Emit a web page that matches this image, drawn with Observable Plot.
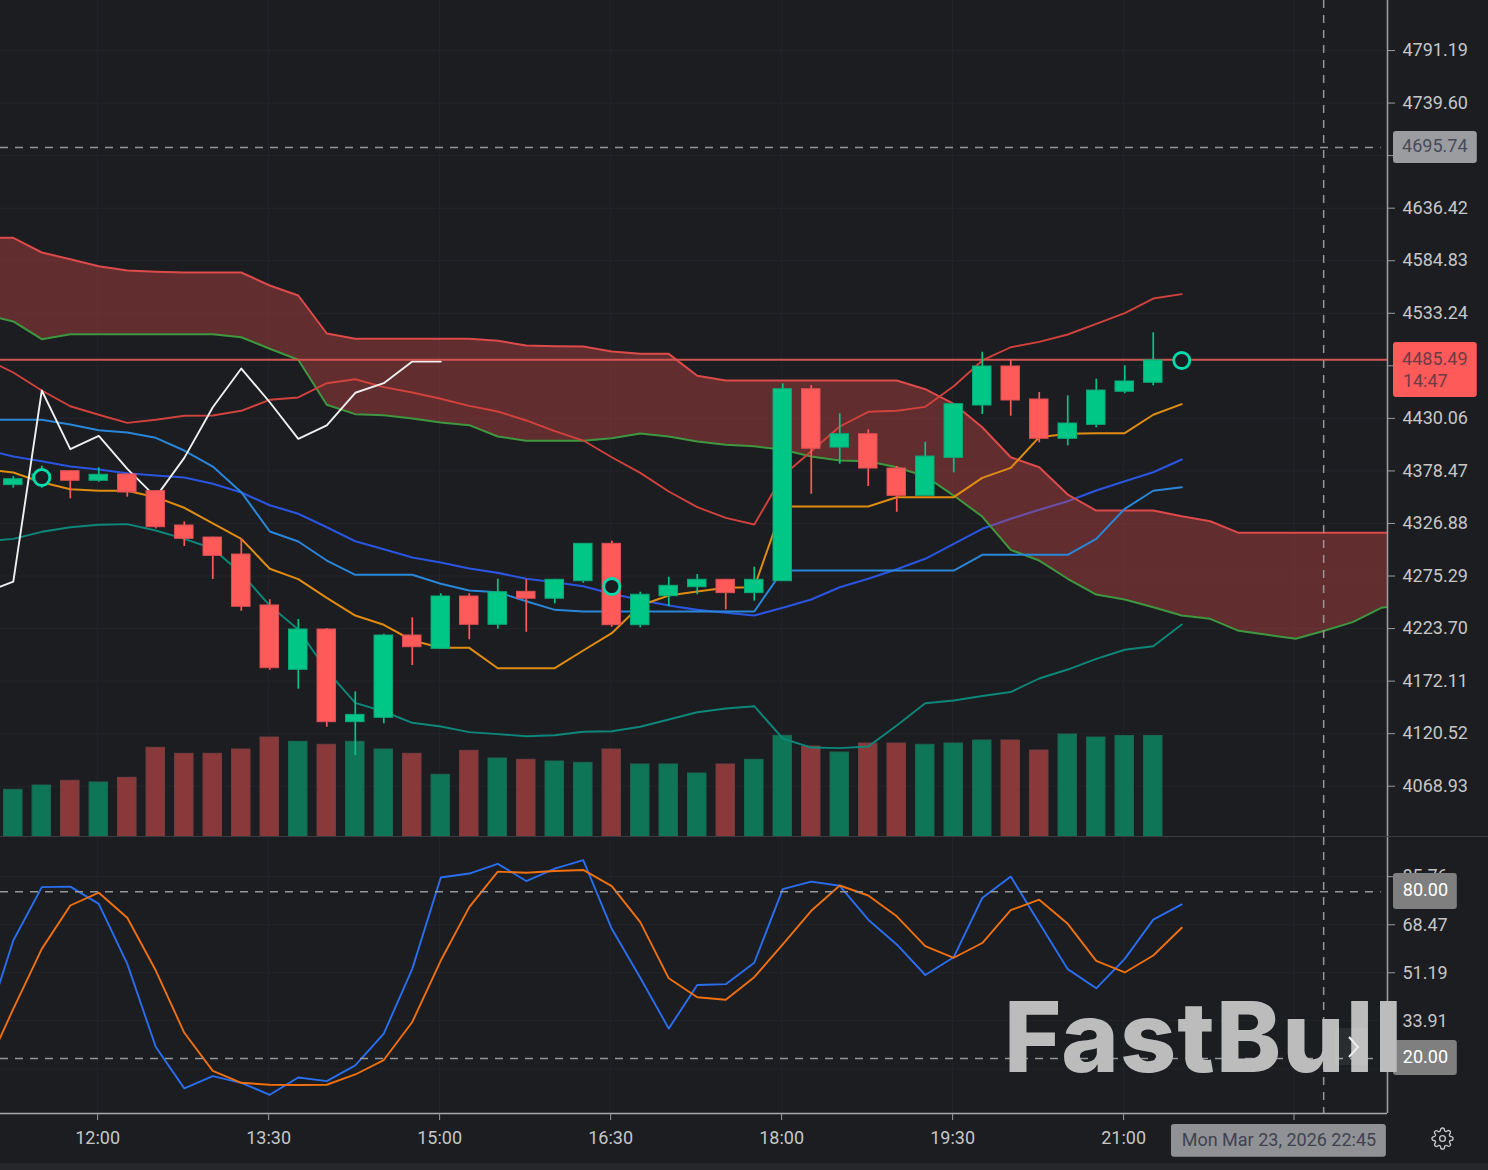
<!DOCTYPE html>
<html><head><meta charset="utf-8">
<script src="https://cdn.jsdelivr.net/npm/d3@7"></script>
<script src="https://cdn.jsdelivr.net/npm/@observablehq/plot@0.6"></script>
<style>
html,body{margin:0;padding:0;background:#1b1d21;overflow:hidden;width:1488px;height:1170px}
#chart{position:relative;width:1488px;height:1170px;overflow:hidden}
#chart svg.plotlayer{position:absolute;left:0;background:transparent;overflow:hidden}
#strip{position:absolute;left:0;top:1163px;width:1488px;height:7px;background:#26272b}
#brand{position:absolute;left:1004px;top:988px;font:800 98px/1 Inter,sans-serif;color:#bcbcbc;letter-spacing:1.1px;white-space:nowrap}
#next{position:absolute;left:1335px;top:1028px;width:33px;height:37px;background:rgba(255,255,255,.07);border-radius:4px}
#gear{position:absolute;left:1431px;top:1127px}
</style></head>
<body><div id="chart"><div id="strip"></div></div>
<script>
// ---- bars: index 0 = 11:15, one bar each 15 minutes
const open  = [4364.5,4369.1,4378.2,4368.8,4375.0,4358.6,4324.9,4313.1,4296.4,4246.4,4183.2,4222.8,4131.8,4136.1,4216.9,4203.8,4255.2,4227.4,4259.8,4253.0,4270.2,4306.9,4227.0,4255.5,4264.3,4271.6,4258.5,4270.2,4458.7,4401.4,4414.5,4380.8,4354.0,4391.3,4442.7,4481.0,4448.6,4410.0,4423.7,4456.2,4465.0];
const close = [4370.3,4375.0,4368.8,4374.7,4357.3,4323.2,4311.8,4295.1,4245.1,4184.8,4222.8,4131.8,4139.0,4216.9,4205.4,4255.2,4227.4,4259.4,4253.0,4271.6,4306.9,4227.0,4256.9,4265.7,4271.6,4258.5,4271.6,4458.7,4400.2,4414.5,4380.8,4354.0,4392.6,4444.0,4481.0,4447.6,4410.0,4425.0,4457.4,4466.3,4487.0];
const high  = [4373.0,4383.1,4378.9,4381.5,4375.6,4359.0,4328.5,4313.4,4311.8,4252.0,4232.6,4223.8,4161.6,4218.2,4234.3,4257.8,4257.8,4272.2,4271.6,4272.0,4306.9,4309.5,4259.4,4274.1,4276.8,4272.0,4284.0,4464.0,4462.3,4434.5,4418.8,4382.8,4406.7,4444.0,4495.0,4487.6,4455.5,4452.2,4468.5,4481.7,4514.1];
const low   = [4361.5,4361.5,4351.1,4367.4,4352.7,4321.6,4304.3,4271.9,4240.7,4182.8,4164.2,4126.9,4099.1,4130.2,4187.4,4203.8,4212.7,4223.1,4220.1,4248.0,4268.2,4225.0,4224.4,4245.4,4256.9,4242.1,4250.6,4270.2,4355.6,4385.1,4363.2,4337.9,4354.0,4376.6,4433.9,4432.2,4406.1,4403.1,4420.8,4454.2,4462.0];
const volume = [47.7,52,56.7,55,59.7,89.7,83.7,83.7,88,100,95.7,92.7,95.7,88,83.7,62.7,86.7,79,77.7,76,74.7,88,73,73,64,73,77.7,101.7,91,85,94,94,92.7,94,97,97,87,103,100,101.5,101.5];

// ---- indicator lines: first value is bar index -1
const cloudUpper = [4607.3,4607.3,4592.9,4586.3,4579.5,4575.2,4574.0,4573.3,4573.3,4573.3,4560.5,4550.7,4513.4,4508.2,4508.2,4508.2,4508.2,4508.2,4506.2,4501.6,4500.9,4500.6,4495.7,4493.4,4493.4,4471.9,4467.2,4467.2,4467.2,4467.2,4467.2,4467.2,4467.2,4458.7,4444.4,4421.4,4391.9,4382.1,4355.3,4339.6,4339.6,4339.6,4334.0,4329.1,4317.7,4317.7,4317.7,4317.7,4317.7,4317.7,4317.7];
const cloudLower = [4532.0,4525.2,4507.8,4512.7,4512.7,4512.7,4512.7,4512.7,4512.7,4509.7,4498.4,4487.6,4443.4,4434.2,4433.2,4429.9,4426.0,4423.4,4412.3,4408.0,4408.0,4408.0,4410.6,4415.2,4412.3,4407.3,4404.1,4402.7,4399.2,4392.6,4388.7,4388.0,4382.1,4373.3,4354.3,4333.7,4301.0,4290.5,4272.6,4257.1,4252.2,4244.7,4236.5,4233.3,4221.5,4217.6,4213.7,4221.5,4230.0,4244.1,4248.3];
const bandUpper = [4488.8,4475.1,4457.4,4442.0,4433.6,4425.7,4428.7,4432.6,4432.9,4437.5,4448.3,4450.6,4464.6,4468.5,4460.7,4455.5,4449.3,4442.4,4436.8,4428.0,4417.5,4408.3,4391.9,4376.6,4358.3,4342.9,4332.4,4325.9,4373.7,4397.8,4422.1,4436.5,4437.5,4441.4,4461.6,4486.9,4499.9,4505.2,4512.4,4522.9,4533.3,4547.7,4552.0];
const bandLower = [4309.2,4311.8,4318.7,4323.2,4325.6,4326.2,4320.0,4311.8,4302.3,4277.8,4246.3,4222.8,4182.5,4150.8,4142.3,4131.2,4127.6,4122.0,4120.1,4118.0,4119.0,4122.4,4122.9,4127.3,4134.4,4141.6,4145.2,4147.5,4115.8,4106.9,4106.3,4107.9,4128.5,4150.4,4153.1,4157.5,4161.4,4174.7,4183.5,4194.0,4202.9,4206.4,4227.7];
const lightBlue = [4428.7,4428.7,4428.7,4424.0,4418.4,4416.2,4411.0,4398.5,4382.8,4357.6,4319.0,4309.2,4290.5,4276.5,4276.5,4276.5,4267.7,4261.1,4259.4,4250.6,4242.1,4240.5,4240.5,4240.5,4240.5,4240.5,4240.5,4240.5,4280.7,4280.7,4280.7,4280.7,4280.7,4280.7,4280.7,4296.1,4296.1,4296.1,4296.1,4311.8,4341.3,4359.0,4362.5];
const deepBlue = [4399.5,4392.6,4388.0,4382.8,4379.9,4376.2,4374.0,4372.0,4365.8,4357.3,4344.8,4336.4,4323.2,4309.5,4301.6,4293.5,4288.6,4282.7,4278.4,4272.6,4269.2,4265.3,4257.8,4251.9,4246.3,4242.1,4239.2,4236.5,4244.1,4252.2,4264.3,4272.6,4282.0,4292.2,4306.9,4321.6,4331.5,4340.3,4348.7,4359.2,4368.4,4377.2,4389.7];
const amber = [4379.9,4376.9,4367.4,4360.5,4359.0,4359.0,4352.7,4342.3,4327.1,4311.8,4282.4,4272.2,4253.9,4236.5,4227.4,4212.0,4204.8,4204.8,4184.8,4184.8,4184.8,4202.2,4219.2,4246.3,4256.2,4260.1,4263.7,4264.3,4343.5,4343.5,4343.5,4343.5,4352.7,4352.7,4352.7,4371.7,4381.5,4411.6,4414.9,4415.5,4415.5,4433.6,4444.0];
const lagging = [4259.1,4269.9,4457.4,4399.8,4412.9,4380.5,4352.7,4391.3,4441.0,4479.0,4445.9,4410.0,4423.1,4455.2,4464.6,4485.9,4485.9];

// ---- stochastic: first value is bar index -1
const stochK = [30.7,62.8,82.0,82.2,76.0,54.4,24.5,9.6,14.0,11.6,7.3,13.5,12.2,17.9,29.3,52.6,85.5,86.9,90.4,84.2,88.7,91.7,67.0,49.4,31.1,46.8,47.1,54.8,81.3,84.0,82.5,70.3,61.4,50.4,56.8,78.1,85.8,69.1,52.5,45.6,56.2,70.3,75.8];
const stochD = [15.8,38.2,59.8,75.4,80.0,71.0,52.0,29.6,15.9,11.6,10.9,10.8,10.9,14.6,19.8,33.5,55.6,74.8,87.6,87.2,87.8,88.2,82.4,69.4,49.2,42.4,41.5,49.6,61.4,73.5,82.6,79.0,71.5,60.8,56.6,61.9,73.7,77.5,68.8,55.5,51.3,57.4,67.4];

// ---- ticks and labels (ticks with no label are covered by a tag in the original)
const priceTicks = [4791.19,4739.60,4688.01,4636.42,4584.83,4533.24,4481.65,4430.06,4378.47,4326.88,4275.29,4223.70,4172.11,4120.52,4068.93];
const coveredPrice = [4688.01,4481.65];
const stochTicks = [85.76,68.47,51.19,33.91,16.63];
const coveredStoch = [16.63];
const stochLevels = [80,20];
const timeIdx = [2.96,8.96,14.96,20.96,26.96,32.96,38.96,44.94];
const timeLabels = ["12:00","13:30","15:00","16:30","18:00","19:30","21:00",""];
const rings = [{i:1,p:4372.0},{i:21,p:4265.0},{i:41,p:4486.9}];
const lastPriceY = 4487.6, crossPrice = 4696.0, crossIdx = 45.98;
const brandName = "FastBull", crossTime = "Mon Mar 23, 2026 22:45";

// ---- scales shared by the panels
const xDomain = [-0.449, 48.22];
const axisColor = "#9b9b9b", gridColor = "#23252a", textColor = "#c6c6c6", dashColor="#969696";
const font = {fontFamily:"Roboto, sans-serif", fontSize:"18px"};
const bars = open.map((o,i)=>({i,o,c:close[i],h:high[i],l:low[i],v:volume[i],up:close[i]>=o}));
const GREEN="#00c785", RED="#ff5a5a", VG="#0e7556", VR="#8a393a", GEDGE="#0aa878", REDGE="#dc5053", VGEDGE="#1c6650", VREDGE="#743d3e";
const half = 0.325;
const ln = (arr,stroke,sw=1.8)=>Plot.line(arr,{x:(d,k)=>k-1,y:d=>d,stroke,strokeWidth:sw,clip:true});
const base = {width:1488,marginLeft:0,marginRight:101,marginTop:0,x:{domain:xDomain,axis:null},style:{...font,background:"transparent",overflow:"hidden"}};

// volume layer
const volPlot = Plot.plot({...base,height:837,marginBottom:0,
  y:{domain:[0,837],axis:null},
  marks:[
    Plot.ruleX(timeIdx,{stroke:gridColor}),
    Plot.ruleY(priceTicks.map(p=>(p-4018.6)/0.98174),{stroke:gridColor}),
    Plot.rect(bars,{x1:d=>d.i-half,x2:d=>d.i+half,y1:0,y2:"v",fill:d=>d.up?VG:VR,stroke:d=>d.up?VGEDGE:VREDGE,strokeWidth:1})
  ]});

// price layer
const cloudIdx = cloudUpper.map((_,k)=>k);
const mainPlot = Plot.plot({...base,height:837,marginBottom:0,
  y:{domain:[4018.6,4840.3],axis:null},
  marks:[
    ln(deepBlue,"#2a55e0",2.1),
    Plot.areaY(cloudIdx,{x:k=>k-1,y1:k=>cloudLower[k],y2:k=>cloudUpper[k],fill:"rgb(212,70,72)",fillOpacity:.38,clip:true}),
    ln(cloudUpper,"#dd4a4a",2),
    ln(cloudLower,"#3f983f",2),
    ln(bandLower,"#0d877a",1.9),
    ln(bandUpper,"#d2423c",1.9),
    ln(lightBlue,"#2a86d8",2),
    ln(amber,"#e08c10",2),
    ln(lagging,"#efefef",1.9),
    Plot.ruleY([lastPriceY],{stroke:"#d25550",strokeWidth:1.8}),
    Plot.ruleX(bars,{x:"i",y1:"l",y2:"h",stroke:d=>d.up?GREEN:RED,strokeWidth:1.7}),
    Plot.rect(bars,{x1:d=>d.i-half,x2:d=>d.i+half,y1:"o",y2:"c",fill:d=>d.up?GREEN:RED,stroke:d=>d.up?GEDGE:REDGE,strokeWidth:1}),
    Plot.dot(rings,{x:"i",y:"p",r:8,fill:"#1b1d21",stroke:"#00dcae",strokeWidth:2.8}),
    Plot.ruleY([crossPrice],{x1:xDomain[0],x2:48,stroke:dashColor,strokeWidth:1.5,strokeDasharray:"8,7"}),
    Plot.ruleX([crossIdx],{stroke:dashColor,strokeWidth:1.5,strokeDasharray:"8,7"}),
    Plot.ruleX([xDomain[1]],{stroke:axisColor,strokeWidth:1.6}),
    Plot.ruleY([4019.3],{x1:xDomain[0],x2:52.2,stroke:"#3c3d41",strokeWidth:1.5}),
    Plot.axisY({anchor:"right",ticks:priceTicks,tickFormat:d=>coveredPrice.includes(d)?"":d.toFixed(2),tickSize:7,tickPadding:8,label:null,color:textColor,stroke:axisColor,fontSize:18,fontVariant:"normal"}),
    // crosshair price tag
    Plot.rect([0],{x1:48.43,x2:51.37,y1:4680.3,y2:4711.7,fill:"#9b9ca0",rx:3}),
    Plot.text(["4695.74"],{x:49.88,y:4696.9,text:d=>d,fill:"#474b58",fontSize:18}),
    // last price tag
    Plot.rect([0],{x1:48.43,x2:51.37,y1:4450.6,y2:4504.5,fill:"#ff5a5a",rx:3}),
    Plot.text(["4485.49"],{x:49.88,y:4487.9,text:d=>d,fill:"#6f3a44",fontSize:18}),
    Plot.text(["14:47"],{x:48.76,y:4466.3,text:d=>d,fill:"#6f3a44",fontSize:18,textAnchor:"start"})
  ]});

// stochastic panel with time axis
const stochPlot = Plot.plot({...base,height:333,marginBottom:57,
  y:{domain:[0.56,99.87],axis:null},
  marks:[
    Plot.ruleX(timeIdx,{stroke:gridColor}),
    Plot.ruleY(stochTicks,{stroke:gridColor}),
    ln(stochK,"#2a6ef0",1.9),
    ln(stochD,"#f07010",1.9),
    Plot.ruleY(stochLevels,{x1:xDomain[0],x2:48,dy:-1,stroke:dashColor,strokeWidth:1.5,strokeDasharray:"8,7"}),
    Plot.ruleX([crossIdx],{stroke:dashColor,strokeWidth:1.5,strokeDasharray:"8,7"}),
    Plot.ruleX([xDomain[1]],{stroke:axisColor,strokeWidth:1.6}),
    Plot.ruleY([0.56],{x1:xDomain[0],x2:xDomain[1],stroke:"#aaaaaa",strokeWidth:1.6}),
    Plot.axisY({anchor:"right",ticks:stochTicks,tickFormat:d=>coveredStoch.includes(d)?"":d.toFixed(2),tickSize:7,tickPadding:8,label:null,color:textColor,stroke:axisColor,fontSize:18,fontVariant:"normal"}),
    Plot.axisX({anchor:"bottom",ticks:timeIdx,tickFormat:d=>timeLabels[timeIdx.indexOf(d)],tickSize:7,tickPadding:11,label:null,color:textColor,stroke:axisColor,fontSize:18,fontVariant:"normal"}),
    Plot.rect([0],{x1:48.43,x2:50.67,y1:73.97,y2:86.92,fill:"#7f7f7f",rx:3}),
    Plot.text(["80.00"],{x:49.55,y:80.8,text:d=>d,fill:"#ffffff",fontSize:18}),
    Plot.rect([0],{x1:48.43,x2:50.67,y1:14.26,y2:26.85,fill:"#7f7f7f",rx:3}),
    Plot.text(["20.00"],{x:49.55,y:20.73,text:d=>d,fill:"#ffffff",fontSize:18}),
    Plot.rect([0],{x1:40.64,x2:48.18,y1:-15.2,y2:-3.37,fill:"#909195",rx:3}),
    Plot.text([crossTime],{x:44.41,y:-8.9,text:d=>d,fill:"#3f4250",fontSize:18})
  ]});

const root = document.getElementById("chart");
[[volPlot,0],[mainPlot,0],[stochPlot,837]].forEach(([p,top])=>{
  p.classList.add("plotlayer"); p.style.top = top+"px"; root.appendChild(p);
});
const brand = document.createElement("div"); brand.id="brand"; brand.textContent=brandName; root.appendChild(brand);
const next = document.createElement("div"); next.id="next";
next.innerHTML='<svg width="33" height="37" viewBox="0 0 33 37" fill="none" stroke="#eeeeee" stroke-width="2"><path d="M14 9 L23 19 L14 29"/></svg>';
root.appendChild(next);
const gear = document.createElement("div"); gear.id="gear";
gear.innerHTML='<svg width="23" height="23" viewBox="0 0 24 24" fill="none" stroke="#c6c6c6" stroke-width="1.4"><path d="M12 15a3 3 0 1 0 0-6 3 3 0 0 0 0 6z"/><path d="M19.4 15a1.65 1.65 0 0 0 .33 1.82l.06.06a2 2 0 0 1 0 2.83 2 2 0 0 1-2.83 0l-.06-.06a1.65 1.65 0 0 0-1.82-.33 1.65 1.65 0 0 0-1 1.51V21a2 2 0 0 1-2 2 2 2 0 0 1-2-2v-.09A1.65 1.65 0 0 0 9 19.4a1.65 1.65 0 0 0-1.82.33l-.06.06a2 2 0 0 1-2.83 0 2 2 0 0 1 0-2.83l.06-.06a1.65 1.65 0 0 0 .33-1.82 1.65 1.65 0 0 0-1.51-1H3a2 2 0 0 1-2-2 2 2 0 0 1 2-2h.09A1.65 1.65 0 0 0 4.6 9a1.65 1.65 0 0 0-.33-1.82l-.06-.06a2 2 0 0 1 0-2.83 2 2 0 0 1 2.83 0l.06.06a1.65 1.65 0 0 0 1.82.33H9a1.65 1.65 0 0 0 1-1.51V3a2 2 0 0 1 2-2 2 2 0 0 1 2 2v.09a1.65 1.65 0 0 0 1 1.51 1.65 1.65 0 0 0 1.82-.33l.06-.06a2 2 0 0 1 2.83 0 2 2 0 0 1 0 2.83l-.06.06a1.65 1.65 0 0 0-.33 1.82V9a1.65 1.65 0 0 0 1.51 1H21a2 2 0 0 1 2 2 2 2 0 0 1-2 2h-.09a1.65 1.65 0 0 0-1.51 1z"/></svg>';
root.appendChild(gear);
</script></body></html>
